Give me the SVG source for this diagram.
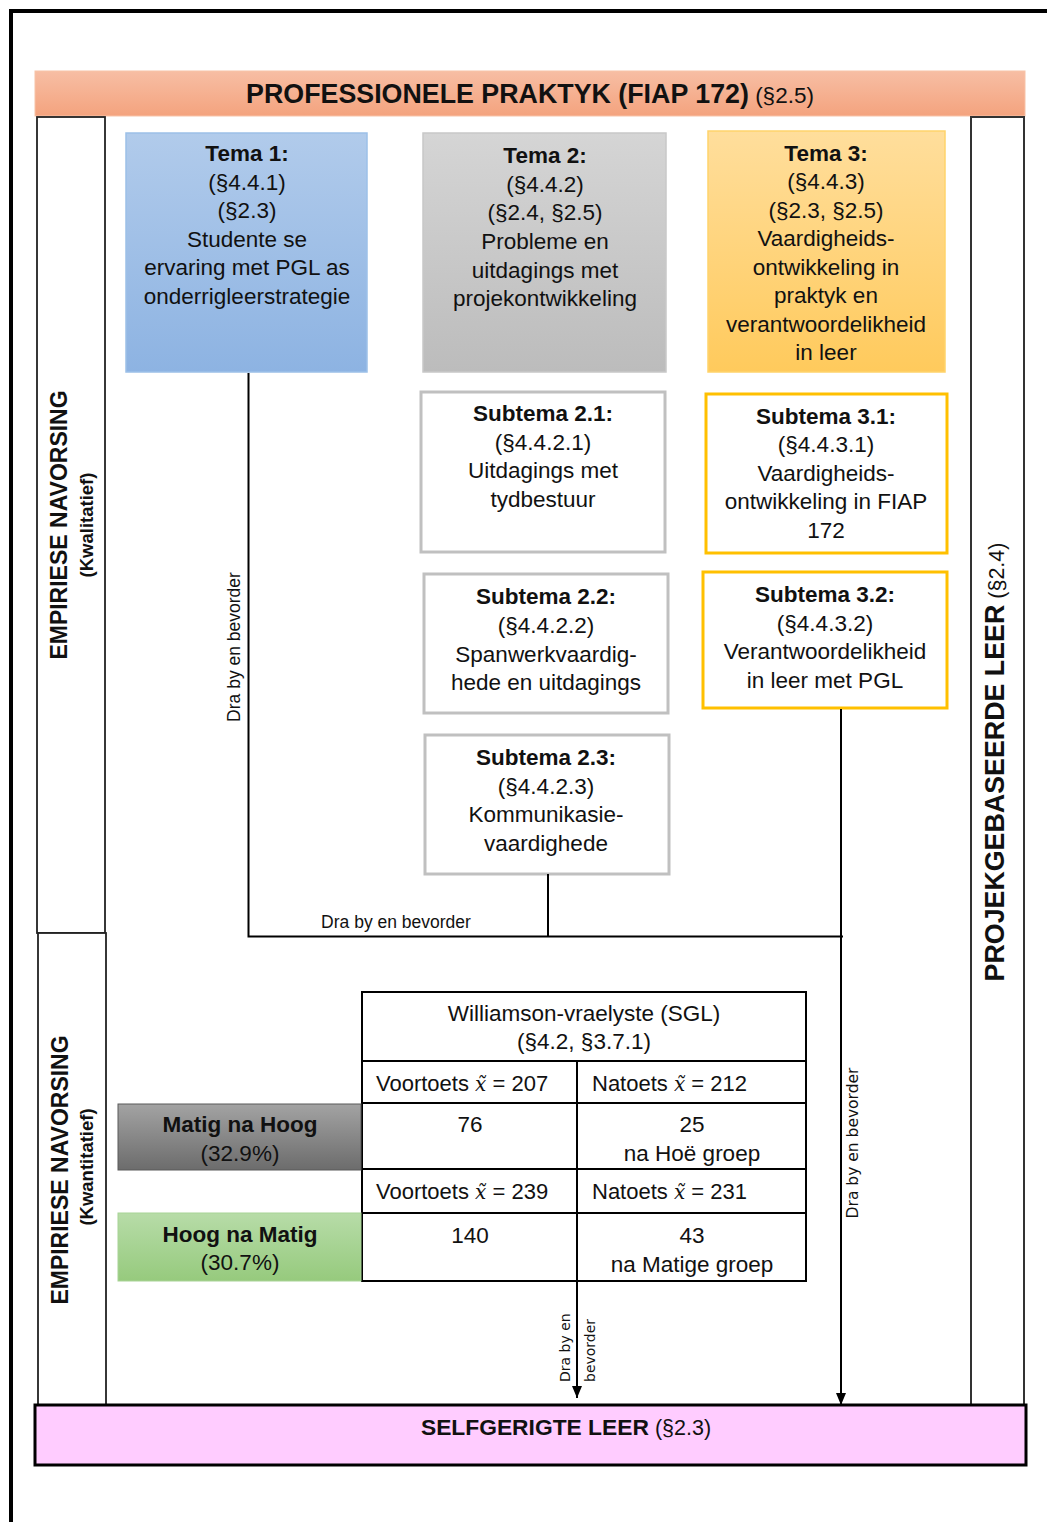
<svg xmlns="http://www.w3.org/2000/svg" width="1047" height="1522" viewBox="0 0 1047 1522">
<defs>
<linearGradient id="gBanner" x1="0" y1="0" x2="0" y2="1"><stop offset="0" stop-color="#F7BEA4"/><stop offset="1" stop-color="#F4A37E"/></linearGradient>
<linearGradient id="gT1" x1="0" y1="0" x2="0" y2="1"><stop offset="0" stop-color="#B1CBEB"/><stop offset="1" stop-color="#8DB3E2"/></linearGradient>
<linearGradient id="gT2" x1="0" y1="0" x2="0" y2="1"><stop offset="0" stop-color="#D5D5D5"/><stop offset="1" stop-color="#BCBCBC"/></linearGradient>
<linearGradient id="gT3" x1="0" y1="0" x2="0" y2="1"><stop offset="0" stop-color="#FFDE9C"/><stop offset="1" stop-color="#FFCA5C"/></linearGradient>
<linearGradient id="gGray" x1="0" y1="0" x2="0" y2="1"><stop offset="0" stop-color="#A3A3A3"/><stop offset="1" stop-color="#6C6C6C"/></linearGradient>
<linearGradient id="gGreen" x1="0" y1="0" x2="0" y2="1"><stop offset="0" stop-color="#B7DCA8"/><stop offset="1" stop-color="#96CA7D"/></linearGradient>
<marker id="arr" markerUnits="userSpaceOnUse" markerWidth="12" markerHeight="10" refX="12" refY="5" orient="auto"><path d="M0,0 L12,5 L0,10 z" fill="#000"/></marker>
<style>
text{font-family:"Liberation Sans",Arial,sans-serif;fill:#111}
.box{font-size:22.5px;text-anchor:middle}
.b{font-weight:bold}
.tb{font-size:22.5px;text-anchor:middle}
.col{fill:#fff;stroke:#222;stroke-width:1.8}
.sub2{fill:#fff;stroke:#C0C0C0;stroke-width:3}
.sub3{fill:#fff;stroke:#FFC000;stroke-width:3}
.lbl{font-size:17.5px;text-anchor:middle}
.vl{font-family:"DejaVu Sans",Verdana,sans-serif;font-size:14px}
.vl2{font-family:"DejaVu Sans",Verdana,sans-serif;font-size:15.5px;text-anchor:middle}
.conn{fill:none;stroke:#000;stroke-width:2}
.grid{fill:none;stroke:#000;stroke-width:2}
.x{font-family:"DejaVu Serif","Liberation Serif",serif;font-style:italic;font-size:20px}
</style>
</defs>

<g id="frame">
<line x1="9" y1="11" x2="1047" y2="11" stroke="#000" stroke-width="4"/>
<line x1="11" y1="9" x2="11" y2="1522" stroke="#000" stroke-width="4"/>
</g>

<g id="banner">
<rect x="35" y="71" width="990" height="45" fill="url(#gBanner)" stroke="#F8C3A8" stroke-width="1"/>
<text x="530" y="103" text-anchor="middle"><tspan class="b" font-size="26.8">PROFESSIONELE PRAKTYK (FIAP 172)</tspan><tspan font-size="22.5"> (§2.5)</tspan></text>
</g>

<g id="empiriese-kwalitatief">
<rect class="col" x="37" y="117" width="68" height="816"/>
<g transform="translate(59,525) rotate(-90)"><text class="b" x="0" y="8" font-size="23" text-anchor="middle">EMPIRIESE NAVORSING</text></g>
<g transform="translate(86,525) rotate(-90)"><text class="b" x="0" y="6.5" font-size="18.5" text-anchor="middle">(Kwalitatief)</text></g>
</g>

<g id="empiriese-kwantitatief">
<rect class="col" x="38" y="933" width="68" height="472"/>
<g transform="translate(60,1170) rotate(-90)"><text class="b" x="0" y="8" font-size="23" text-anchor="middle">EMPIRIESE NAVORSING</text></g>
<g transform="translate(86,1167) rotate(-90)"><text class="b" x="0" y="6.5" font-size="18.5" text-anchor="middle">(Kwantitatief)</text></g>
</g>

<g id="projekgebaseerde">
<rect x="971" y="117" width="53" height="1288" fill="#fff" stroke="#333" stroke-width="2"/>
<g transform="translate(995,762) rotate(-90)"><text x="0" y="9" text-anchor="middle"><tspan class="b" font-size="26.8">PROJEKGEBASEERDE LEER</tspan><tspan font-size="21.5"> (§2.4)</tspan></text></g>
</g>

<g id="tema1">
<rect x="126" y="133" width="241" height="239" fill="url(#gT1)" stroke="#9CC0E8" stroke-width="1.5"/>
<text class="box"><tspan class="b" x="247" y="161">Tema 1:</tspan><tspan x="247" y="190">(§4.4.1)</tspan><tspan x="247" y="218">(§2.3)</tspan><tspan x="247" y="247">Studente se</tspan><tspan x="247" y="275">ervaring met PGL as</tspan><tspan x="247" y="304">onderrigleerstrategie</tspan></text>
</g>

<g id="tema2">
<rect x="423" y="133" width="243" height="239" fill="url(#gT2)" stroke="#C8C8C8" stroke-width="1.5"/>
<text class="box"><tspan class="b" x="545" y="163">Tema 2:</tspan><tspan x="545" y="192">(§4.4.2)</tspan><tspan x="545" y="220">(§2.4, §2.5)</tspan><tspan x="545" y="249">Probleme en</tspan><tspan x="545" y="278">uitdagings met</tspan><tspan x="545" y="306">projekontwikkeling</tspan></text>
</g>

<g id="tema3">
<rect x="708" y="131" width="237" height="241" fill="url(#gT3)" stroke="#FFD36B" stroke-width="1.5"/>
<text class="box"><tspan class="b" x="826" y="161">Tema 3:</tspan><tspan x="826" y="189">(§4.4.3)</tspan><tspan x="826" y="218">(§2.3, §2.5)</tspan><tspan x="826" y="246">Vaardigheids-</tspan><tspan x="826" y="275">ontwikkeling in</tspan><tspan x="826" y="303">praktyk en</tspan><tspan x="826" y="332">verantwoordelikheid</tspan><tspan x="826" y="360">in leer</tspan></text>
</g>

<g id="subtema21">
<rect class="sub2" x="421" y="392" width="244" height="160"/>
<text class="box"><tspan class="b" x="543" y="421">Subtema 2.1:</tspan><tspan x="543" y="450">(§4.4.2.1)</tspan><tspan x="543" y="478">Uitdagings met</tspan><tspan x="543" y="507">tydbestuur</tspan></text>
</g>

<g id="subtema31">
<rect class="sub3" x="706" y="394" width="241" height="159"/>
<text class="box"><tspan class="b" x="826" y="424">Subtema 3.1:</tspan><tspan x="826" y="452">(§4.4.3.1)</tspan><tspan x="826" y="481">Vaardigheids-</tspan><tspan x="826" y="509">ontwikkeling in FIAP</tspan><tspan x="826" y="538">172</tspan></text>
</g>

<g id="subtema22">
<rect class="sub2" x="424" y="574" width="244" height="139"/>
<text class="box"><tspan class="b" x="546" y="604">Subtema 2.2:</tspan><tspan x="546" y="633">(§4.4.2.2)</tspan><tspan x="546" y="662">Spanwerkvaardig-</tspan><tspan x="546" y="690">hede en uitdagings</tspan></text>
</g>

<g id="subtema32">
<rect class="sub3" x="703" y="572" width="244" height="136"/>
<text class="box"><tspan class="b" x="825" y="602">Subtema 3.2:</tspan><tspan x="825" y="631">(§4.4.3.2)</tspan><tspan x="825" y="659">Verantwoordelikheid</tspan><tspan x="825" y="688">in leer met PGL</tspan></text>
</g>

<g id="subtema23">
<rect class="sub2" x="425" y="735" width="244" height="139"/>
<text class="box"><tspan class="b" x="546" y="765">Subtema 2.3:</tspan><tspan x="546" y="794">(§4.4.2.3)</tspan><tspan x="546" y="822">Kommunikasie-</tspan><tspan x="546" y="851">vaardighede</tspan></text>
</g>

<g id="williamson-tabel">
<rect class="grid" x="362" y="992" width="444" height="289" fill="#fff"/>
<line class="grid" x1="362" y1="1061" x2="806" y2="1061"/>
<line class="grid" x1="362" y1="1103" x2="806" y2="1103"/>
<line class="grid" x1="362" y1="1169" x2="806" y2="1169"/>
<line class="grid" x1="362" y1="1213" x2="806" y2="1213"/>
<line class="grid" x1="577" y1="1061" x2="577" y2="1281"/>
<text class="tb"><tspan x="584" y="1021">Williamson-vraelyste (SGL)</tspan><tspan x="584" y="1049">(§4.2, §3.7.1)</tspan></text>
<text x="376" y="1091" font-size="22">Voortoets <tspan class="x">x̃</tspan> = 207</text>
<text x="592" y="1091" font-size="22">Natoets <tspan class="x">x̃</tspan> = 212</text>
<text class="tb" x="470" y="1132">76</text>
<text class="tb"><tspan x="692" y="1132">25</tspan><tspan x="692" y="1161">na Hoë groep</tspan></text>
<text x="376" y="1199" font-size="22">Voortoets <tspan class="x">x̃</tspan> = 239</text>
<text x="592" y="1199" font-size="22">Natoets <tspan class="x">x̃</tspan> = 231</text>
<text class="tb" x="470" y="1243">140</text>
<text class="tb"><tspan x="692" y="1243">43</tspan><tspan x="692" y="1272">na Matige groep</tspan></text>
</g>

<g id="matig-na-hoog">
<rect x="118" y="1104" width="243" height="66" fill="url(#gGray)" stroke="#5A5A5A" stroke-width="1"/>
<text class="tb"><tspan class="b" x="240" y="1132">Matig na Hoog</tspan><tspan x="240" y="1161">(32.9%)</tspan></text>
</g>

<g id="hoog-na-matig">
<rect x="118" y="1213" width="243" height="68" fill="url(#gGreen)" stroke="#A8D396" stroke-width="1"/>
<text class="tb"><tspan class="b" x="240" y="1242">Hoog na Matig</tspan><tspan x="240" y="1270">(30.7%)</tspan></text>
</g>

<g id="selfgerigte">
<rect x="35" y="1405" width="991" height="60" fill="#FFCCFF" stroke="#000" stroke-width="3"/>
<text x="566" y="1435" text-anchor="middle"><tspan class="b" font-size="22.8">SELFGERIGTE LEER</tspan><tspan font-size="21.5"> (§2.3)</tspan></text>
</g>

<g id="connectors">
<path class="conn" d="M248.5,373 V936.5 H843"/>
<path class="conn" d="M548,874 V936.5"/>
<path class="conn" d="M841,709 V1405" marker-end="url(#arr)"/>
<path class="conn" d="M577,1282 V1398" marker-end="url(#arr)"/>
<g transform="translate(234,647) rotate(-90)"><text class="lbl" x="0" y="6">Dra by en bevorder</text></g>
<text class="lbl" x="396" y="928">Dra by en bevorder</text>
<g transform="translate(852,1143) rotate(-90)"><text class="vl2" x="0" y="5.5">Dra by en bevorder</text></g>
<g transform="translate(565,1382) rotate(-90)"><text class="vl" x="0" y="5">Dra by en</text></g>
<g transform="translate(590,1382) rotate(-90)"><text class="vl" x="0" y="5">bevorder</text></g>
</g>
</svg>
